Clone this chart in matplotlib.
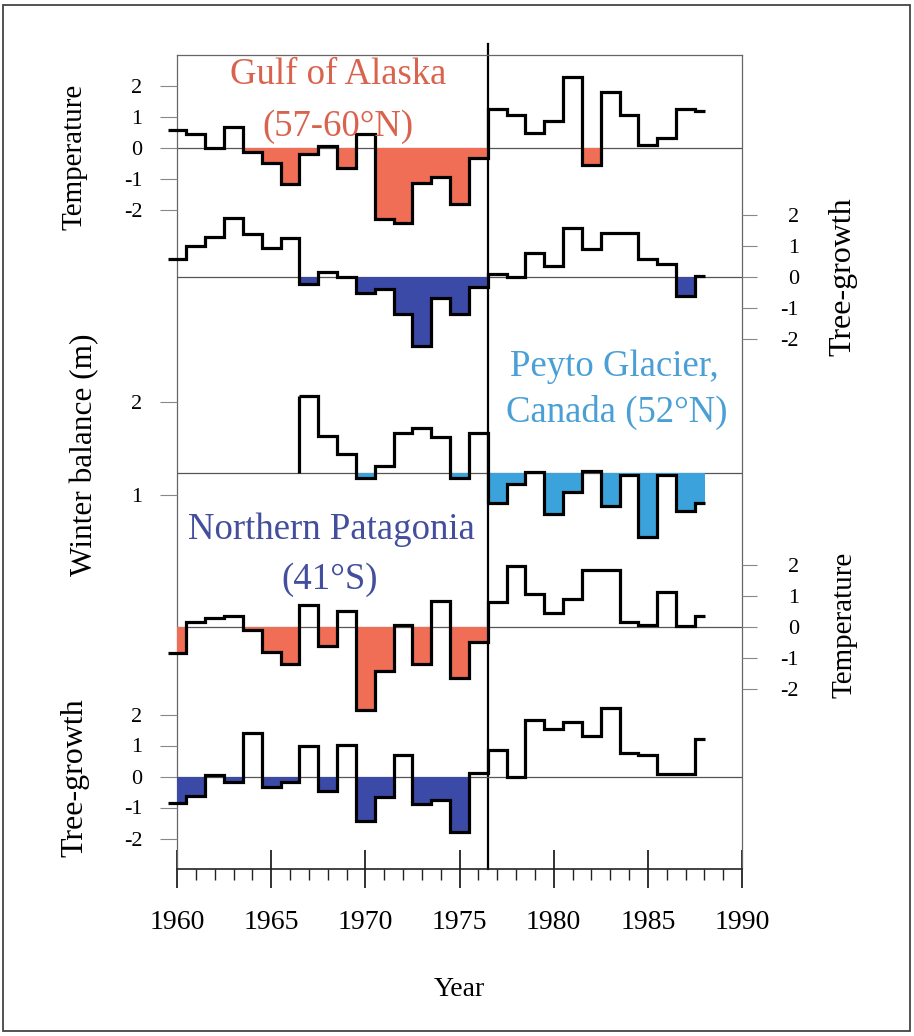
import numpy as np
import matplotlib
matplotlib.use("Agg")
import matplotlib.pyplot as plt
from matplotlib.patches import Rectangle

plt.rcParams['font.family'] = ['Liberation Serif', 'DejaVu Serif']

# ---- data -------------------------------------------------------------
years = np.arange(1960, 1989)

alaska_temp = [0.58, 0.45, 0.0, 0.67, -0.12, -0.47, -1.16, -0.19, 0.06, -0.66,
               0.45, -2.30, -2.41, -1.14, -0.95, -1.81, -0.33,
               1.26, 1.06, 0.47, 0.87, 2.30, -0.55, 1.82, 1.05, 0.09, 0.31, 1.26, 1.18]

alaska_tree = [0.58, 1.00, 1.30, 1.89, 1.38, 0.93, 1.25, -0.24, 0.17, -0.01,
               -0.53, -0.39, -1.19, -2.23, -0.67, -1.19, -0.33,
               0.09, -0.01, 0.76, 0.37, 1.57, 0.89, 1.41, 1.43, 0.59, 0.41, -0.60, 0.02]

peyto_years = np.arange(1967, 1989)
peyto_balance = [2.065, 1.634, 1.44, 1.18, 1.31, 1.67, 1.72, 1.62, 1.18, 1.67,
                 0.917, 1.118, 1.25, 0.80, 1.035, 1.26, 0.88, 1.22, 0.545, 1.21, 0.83, 0.91]
peyto_base = 1.237

patag_temp = [-0.85, 0.15, 0.28, 0.35, -0.10, -0.82, -1.20, 0.71, -0.61, 0.52,
              -2.68, -1.42, 0.06, -1.19, 0.85, -1.66, -0.47,
              0.82, 1.97, 1.06, 0.44, 0.89, 1.84, 1.84, 0.15, 0.06, 1.12, 0.04, 0.35]

patag_tree = [-0.86, -0.62, 0.05, -0.18, 1.40, -0.34, -0.18, 1.00, -0.48, 1.02,
              -1.42, -0.67, 0.70, -0.88, -0.75, -1.80, 0.10,
              0.84, -0.01, 1.83, 1.54, 1.75, 1.31, 2.20, 0.75, 0.69, 0.09, 0.09, 1.20]

x_ticks = [1960, 1965, 1970, 1975, 1980, 1985, 1990]
anom_ticks = [-2, -1, 0, 1, 2]
balance_ticks = [1, 2]
split_year = 1976.5

RED = '#F06E55'
DBLUE = '#3B4AA6'
LBLUE = '#3BA2DB'

# ---- layout (pixel geometry of the figure) ----------------------------
W, H = 914, 1036
X0, X1 = 177, 742
Y0, Y1 = 55, 869

fig = plt.figure(figsize=(W / 100, H / 100), dpi=100)
rect = [X0 / W, 1 - Y1 / H, (X1 - X0) / W, (Y1 - Y0) / H]

ax = fig.add_axes(rect)
ax.set_xlim(1960, 1990)
ax.set_ylim(0, 1)
ax.set_yticks([])
for side in ('left', 'right', 'top'):
    ax.spines[side].set_color('#666666')
    ax.spines[side].set_linewidth(0.9)
ax.spines['bottom'].set_color('#222222')
ax.spines['bottom'].set_linewidth(1.2)
ax.set_xticks(x_ticks)
ax.set_xticks(np.arange(1960, 1991), minor=True)
ax.tick_params(axis='x', which='major', direction='inout', length=27, width=1.3,
               color='#222222', labelsize=20, pad=16)
ax.tick_params(axis='x', which='minor', direction='out', length=8, width=1.0,
               color='#222222')
ax.set_xlabel('Year', fontsize=20, labelpad=30)
ax.axvline(split_year, ymin=0, ymax=1.013, color='k', lw=1.6, clip_on=False)


def series_axes(zero_px, px_per_unit, side, ticks):
    a = fig.add_axes(rect, sharex=ax, frameon=False)
    a.patch.set_alpha(0)
    a.set_ylim(-(Y1 - zero_px) / px_per_unit, (zero_px - Y0) / px_per_unit)
    a.xaxis.set_visible(False)
    a.set_yticks(ticks)
    a.set_yticklabels([f'{t:d}' for t in ticks])
    if side == 'left':
        a.tick_params(axis='y', left=True, right=False, labelleft=True,
                      labelright=False, direction='out', length=12, width=0.8,
                      color='#888888', labelsize=16, pad=13)
    else:
        a.tick_params(axis='y', left=False, right=True, labelleft=False,
                      labelright=True, direction='out', length=11, width=0.8,
                      color='#888888', labelsize=16, pad=30)
        for lab in a.get_yticklabels():
            lab.set_horizontalalignment('right')
    return a


def draw_steps(a, yrs, vals, base, color, rise_from_base=False):
    v = np.asarray(vals, dtype=float)
    edges = np.append(yrs - 0.5, yrs[-1] + 0.05)
    a.axhline(base, color='#555555', lw=0.9, zorder=1)
    a.stairs(np.minimum(v, base), edges, baseline=base, fill=True,
             color=color, lw=0, zorder=2)
    a.stairs(v, edges, baseline=None, color='k', lw=2.3, zorder=3, clip_on=False)
    if rise_from_base:
        a.vlines(edges[0], base, v[0], color='k', lw=2.3, zorder=3)


a1 = series_axes(148, 31, 'left', anom_ticks)
draw_steps(a1, years, alaska_temp, 0, RED)

a2 = series_axes(277, 31, 'right', anom_ticks)
draw_steps(a2, years, alaska_tree, 0, DBLUE)

a3 = series_axes(588, 93, 'left', balance_ticks)
draw_steps(a3, peyto_years, peyto_balance, peyto_base, LBLUE, rise_from_base=True)

a4 = series_axes(627, 31, 'right', anom_ticks)
draw_steps(a4, years, patag_temp, 0, RED)

a5 = series_axes(776.5, 31, 'left', anom_ticks)
draw_steps(a5, years, patag_tree, 0, DBLUE)


def ftext(x, y, s, **kw):
    fig.text(x / W, 1 - y / H, s, ha='center', va='center', **kw)


# axis titles
ftext(75, 157, 'Temperature', rotation=90, fontsize=21)
ftext(843, 277, 'Tree-growth', rotation=90, fontsize=23)
ftext(85, 455, 'Winter balance (m)', rotation=90, fontsize=22.5)
ftext(845, 625, 'Temperature', rotation=90, fontsize=21)
ftext(75, 778, 'Tree-growth', rotation=90, fontsize=23)

# region names
ftext(338, 75, 'Gulf of Alaska', fontsize=26.5, color='#D9644E')
ftext(338, 127, '(57-60°N)', fontsize=26.5, color='#D9644E')
ftext(614, 367, 'Peyto Glacier,', fontsize=26.5, color='#4AA0D6')
ftext(617, 412, 'Canada (52°N)', fontsize=26.5, color='#4AA0D6')
ftext(331, 530, 'Northern Patagonia', fontsize=26.5, color='#434F9C')
ftext(330, 580, '(41°S)', fontsize=26.5, color='#434F9C')

# outer border
fig.patches.append(Rectangle((3 / W, 1 - 1031 / H), 907 / W, 1026 / H,
                             transform=fig.transFigure, fill=False,
                             edgecolor='#444444', lw=1.3))

fig.savefig('out.png', dpi=100)
